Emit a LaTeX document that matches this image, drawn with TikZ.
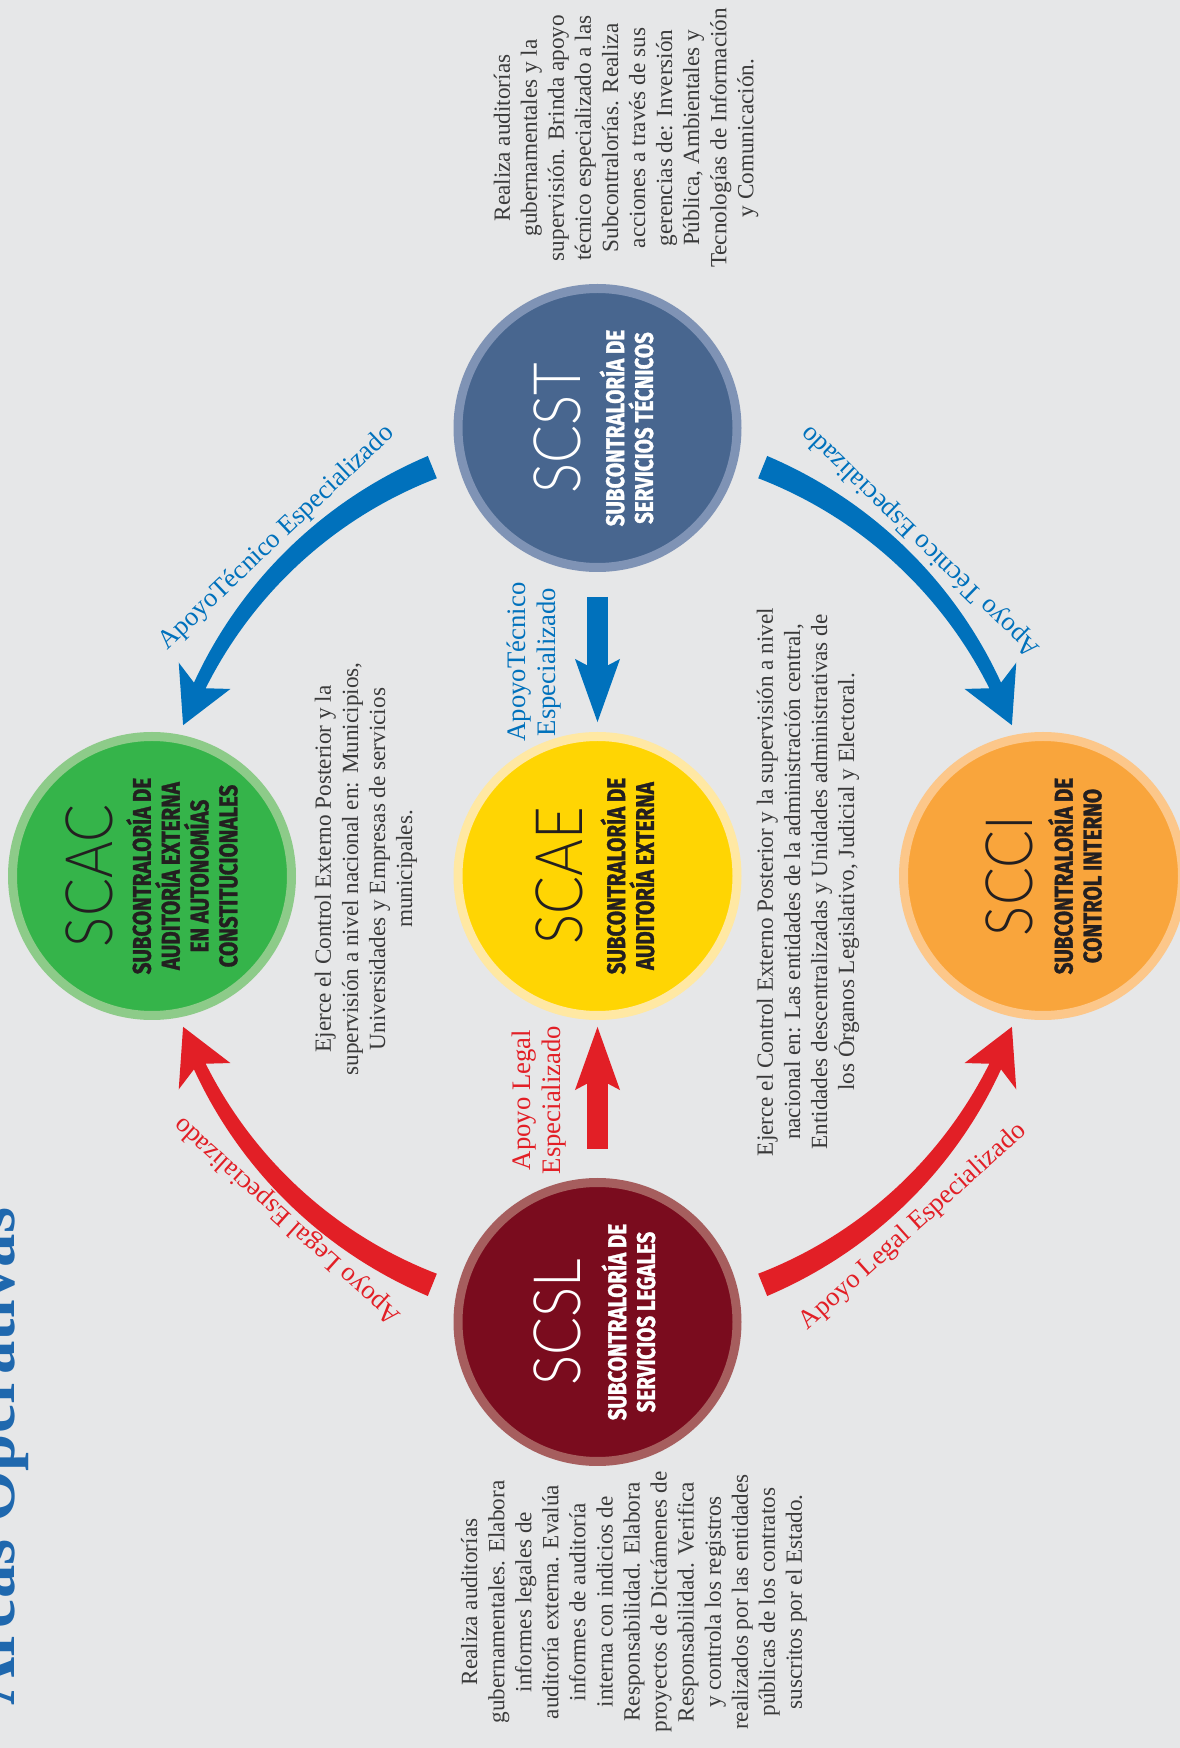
\documentclass[tikz,border=0pt]{standalone}
\usepackage{fontspec}
\usetikzlibrary{arrows.meta,calc}
\newfontfamily\descfont{Liberation Serif}
\newfontfamily\namefont[FakeStretch=0.86]{Lato Light}
\newfontfamily\subfont[FakeStretch=0.8,FakeBold=1.2]{Fira Sans}

\definecolor{bg}{HTML}{E6E7E8}
\definecolor{desctext}{HTML}{3A3A3A}
\definecolor{nametext}{HTML}{231F20}
\definecolor{titleblue}{HTML}{1F68AE}
\definecolor{bluearr}{HTML}{0071BC}
\definecolor{redarr}{HTML}{E21F26}
\definecolor{scstfill}{HTML}{48668F}
\definecolor{scstring}{HTML}{7F93B5}
\definecolor{scacfill}{HTML}{35B44A}
\definecolor{scacring}{HTML}{8DCB89}
\definecolor{scaefill}{HTML}{FFD503}
\definecolor{scaering}{HTML}{FFE8A3}
\definecolor{sccifill}{HTML}{F9A53C}
\definecolor{scciring}{HTML}{FCC78A}
\definecolor{scslfill}{HTML}{7A0C1E}
\definecolor{scslring}{HTML}{A65E5E}

% tapered arc arrow round the origin: colour, start angle, tip angle
\newcommand\arcarrow[3]{%
  \pgfmathsetmacro\dd{ifthenelse(#3>#2,1,-1)}%
  \pgfmathsetmacro\hb{#3-5.6*\dd}%
  \pgfmathsetmacro\hw{#3-7*\dd}%
  \fill[#1] plot[domain=#2:\hb,samples=40] (\x:{4.41+0.12-0.055*(\x-#2)/(\hb-#2)})
    -- (\hw:4.70) -- (#3:4.41) -- (\hw:4.12)
    -- plot[domain=\hb:#2,samples=40] (\x:{4.41-0.12+0.055*(\x-#2)/(\hb-#2)}) -- cycle;}

\begin{document}
\begin{tikzpicture}[
  unit/.style={circle, minimum size=2.79cm, line width=0.09cm, inner sep=0pt},
  uname/.style={rotate=90, text=nametext, font=\namefont\fontsize{18.6}{20}\selectfont, inner sep=0pt},
  usub/.style={rotate=90, align=center, text=nametext, font=\subfont\bfseries\fontsize{7.3}{8.2}\selectfont, inner sep=0pt},
  desc/.style={rotate=90, align=center, text=desctext, font=\descfont\fontsize{6.6}{7.7}\selectfont},
  arclbl/.style={font=\descfont\fontsize{7.6}{8.6}\selectfont, inner sep=0pt},
  midlbl/.style={arclbl, rotate=90, align=center},
  straight/.style={line width=0.21cm, -{Stealth[length=0.62cm, width=0.42cm, inset=0.1cm]}}
]
\useasboundingbox (0,0) rectangle (11.8,17.48);
\clip (0,0) rectangle (11.8,17.48);
\fill[bg] (0,0) rectangle (11.8,17.48);

\node[rotate=90, anchor=base west, text=titleblue, font=\descfont\bfseries\fontsize{19}{19}\selectfont, inner sep=0pt] (title) at (0.15,0.42) {Áreas Operativas};

% the five units
\node[unit, fill=scaefill, draw=scaering] (scae) at (5.975,8.72) {};
\node[unit, fill=scstfill, draw=scstring] (scst) at (5.975,13.20) {};
\node[unit, fill=scslfill, draw=scslring] (scsl) at (5.975,4.26) {};
\node[unit, fill=scacfill, draw=scacring] (scac) at (1.52,8.72) {};
\node[unit, fill=sccifill, draw=scciring] (scci) at (10.43,8.72) {};

\node[uname] (scae-name) at ($(scae)+(-0.38,0)$) {SCAE};
\node[usub] (scae-sub) at ($(scae)+(0.30,0)$) {SUBCONTRALORÍA DE\\AUDITORÍA EXTERNA};
\node[uname, text=white] (scst-name) at ($(scst)+(-0.40,0)$) {SCST};
\node[usub, text=white] (scst-sub) at ($(scst)+(0.29,0)$) {SUBCONTRALORÍA DE\\SERVICIOS TÉCNICOS};
\node[uname, text=white] (scsl-name) at ($(scsl)+(-0.40,0)$) {SCSL};
\node[usub, text=white] (scsl-sub) at ($(scsl)+(0.31,0)$) {SUBCONTRALORÍA DE\\SERVICIOS LEGALES};
\node[uname] (scac-name) at ($(scac)+(-0.63,0)$) {SCAC};
\node[usub] (scac-sub) at ($(scac)+(0.30,0)$) {SUBCONTRALORÍA DE\\AUDITORÍA EXTERNA\\EN AUTONOMÍAS\\CONSTITUCIONALES};
\node[uname] (scci-name) at ($(scci)+(-0.34,0)$) {SCCI};
\node[usub] (scci-sub) at ($(scci)+(0.32,0)$) {SUBCONTRALORÍA DE\\CONTROL INTERNO};

% support arrows
\begin{scope}[shift={(scae)}]
  \arcarrow{bluearr}{112}{160}
  \arcarrow{bluearr}{68}{20}
  \arcarrow{redarr}{248}{200}
  \arcarrow{redarr}{292}{340}
  \node[arclbl, text=bluearr, rotate=43.5] (lbl-tl) at (133.5:4.66) {ApoyoTécnico Especializado};
  \node[arclbl, text=bluearr, rotate=136] (lbl-tr) at (46:4.66) {Apoyo Técnico Especializado};
  \node[arclbl, text=redarr, rotate=138] (lbl-bl) at (228:4.63) {Apoyo Legal Especializado};
  \node[arclbl, text=redarr, rotate=42] (lbl-br) at (312:4.72) {Apoyo Legal Especializado};
\end{scope}

\draw[straight, bluearr] ($(scst.south)+(0,-0.25)$) -- ($(scae.north)+(0,0.09)$);
\draw[straight, redarr] ($(scsl.north)+(0,0.29)$) -- ($(scae.south)+(0,-0.06)$);
\node[midlbl, text=bluearr] (lbl-mt) at (5.34,10.86) {ApoyoTécnico\\Especializado};
\node[midlbl, text=redarr] (lbl-mb) at (5.39,6.48) {Apoyo Legal\\Especializado};

% what each unit does
\node[desc] (scst-desc) at (6.26,16.10) {Realiza auditorías\\gubernamentales y la\\supervisión. Brinda apoyo\\técnico especializado a las\\Subcontralorías. Realiza\\acciones a través de sus\\gerencias de: Inversión\\Pública, Ambientales y\\Tecnologías de Información\\y Comunicación.};
\node[desc] (scsl-desc) at (6.34,1.46) {Realiza auditorías\\gubernamentales. Elabora\\informes legales de\\auditoría externa. Evalúa\\informes de auditoría\\interna con indicios de\\Responsabilidad. Elabora\\proyectos de Dictámenes de\\Responsabilidad. Verifica\\y controla los registros\\realizados por las entidades\\públicas de los contratos\\suscritos por el Estado.};
\node[desc] (scac-desc) at (3.66,8.79) {Ejerce el Control Externo Posterior y la\\supervisión a nivel nacional en: Municipios,\\Universidades y Empresas de servicios\\municipales.};
\node[desc] (scci-desc) at (8.08,8.66) {Ejerce el Control Externo Posterior y la supervisión a nivel\\nacional en: Las entidades de la administración central,\\Entidades descentralizadas y Unidades administrativas de\\los Órganos Legislativo, Judicial y Electoral.};
\end{tikzpicture}
\end{document}
